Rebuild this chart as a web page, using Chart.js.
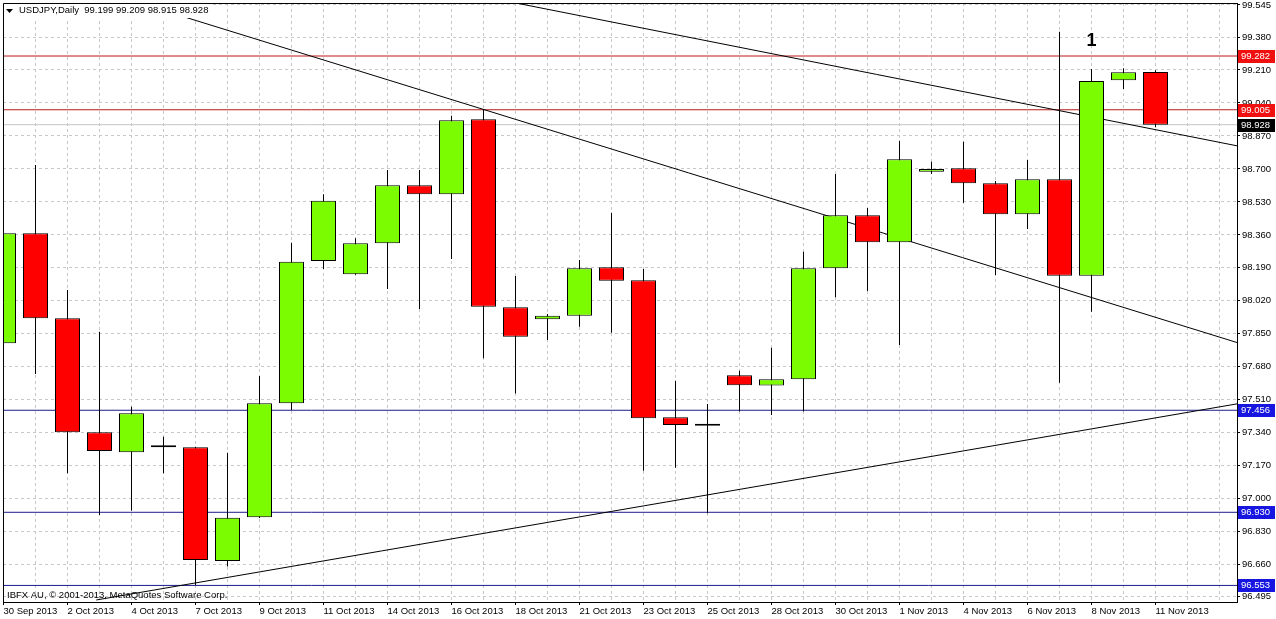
<!DOCTYPE html>
<html><head><meta charset="utf-8">
<script src="https://cdn.jsdelivr.net/npm/chart.js@4"></script>
<style>html,body{margin:0;padding:0;background:#fff;overflow:hidden}</style>
</head><body>
<canvas id="c" width="1276" height="619"></canvas>
<script>
// ---- data ----
const dates = ['30 Sep 2013','1 Oct 2013','2 Oct 2013','3 Oct 2013','4 Oct 2013','6 Oct 2013','7 Oct 2013','8 Oct 2013','9 Oct 2013','10 Oct 2013','11 Oct 2013','13 Oct 2013','14 Oct 2013','15 Oct 2013','16 Oct 2013','17 Oct 2013','18 Oct 2013','20 Oct 2013','21 Oct 2013','22 Oct 2013','23 Oct 2013','24 Oct 2013','25 Oct 2013','27 Oct 2013','28 Oct 2013','29 Oct 2013','30 Oct 2013','31 Oct 2013','1 Nov 2013','3 Nov 2013','4 Nov 2013','5 Nov 2013','6 Nov 2013','7 Nov 2013','8 Nov 2013','10 Nov 2013','11 Nov 2013'];
const opens  = [97.801,98.368,97.930,97.342,97.239,97.265,97.265,96.679,96.904,97.492,98.225,98.157,98.317,98.616,98.569,98.956,97.987,97.925,97.943,98.193,98.126,97.420,97.376,97.636,97.583,97.616,98.188,98.461,98.322,98.686,98.703,98.626,98.466,98.647,98.149,99.157,99.199];
const highs  = [98.488,98.720,98.076,97.861,97.474,97.320,97.268,97.237,97.633,98.320,98.569,98.342,98.694,98.694,98.974,99.007,98.148,97.952,98.230,98.474,98.184,97.608,97.488,97.660,97.778,98.273,98.674,98.499,98.845,98.737,98.840,98.638,98.746,99.407,99.215,99.219,99.209];
const lows   = [97.483,97.643,97.131,96.916,96.938,97.131,96.555,96.650,96.900,97.457,98.184,98.155,98.081,97.978,98.236,97.724,97.543,97.818,97.887,97.856,97.144,97.160,96.925,97.449,97.432,97.449,98.038,98.071,97.792,98.674,98.526,98.153,98.390,97.598,97.964,99.112,98.915];
const closes = [98.368,97.930,97.342,97.246,97.440,97.265,96.684,96.902,97.492,98.222,98.536,98.317,98.616,98.569,98.951,97.990,97.835,97.943,98.188,98.124,97.415,97.380,97.376,97.585,97.616,98.188,98.461,98.322,98.750,98.700,98.626,98.466,98.647,98.149,99.153,99.198,98.928];
const priceTicks = [99.545,99.380,99.210,99.040,98.870,98.700,98.530,98.360,98.190,98.020,97.850,97.680,97.510,97.340,97.170,97.000,96.830,96.660,96.495];
const redLevels = [99.282, 99.005];
const blueLevels = [97.456, 96.930, 96.553];
const bidLevel = 98.928;
const trendLine1 = [[4.25, 99.555], [38.55, 97.805]];
const trendLine2 = [[16.02, 99.555], [38.55, 98.819]];
const trendLine3 = [[2.9, 96.478], [38.55, 97.489]];
const titleSymbol = 'USDJPY,Daily';
const titleOHLC = '99.199 99.209 98.915 98.928';
const copyrightText = 'IBFX AU, \u00A9 2001-2013, MetaQuotes Software Corp.';
const markText = '1';
const markIndex = 34;
const markPrice = 99.36;

// ---- styles / layout ----
const X_MIN = -0.015625, X_MAX = 38.546875;
const Y_MIN = 96.4676, Y_MAX = 99.5553;
const FONT = "'Liberation Sans', Arial, sans-serif";
const BULL = '#7cfc00', BEAR = '#ff0000';
const LINE_RED = '#bb1a1a', LINE_BLUE = '#1c1c8c';
const BOX_RED = '#f01010', BOX_BLUE = '#1616e0';

Chart.defaults.font.family = FONT;
Chart.defaults.font.size = 9.5;
Chart.defaults.color = '#000';

const bodyData = dates.map((d, i) => ({x: i, y: [opens[i], closes[i]]}));
const wickData = dates.map((d, i) => ({x: i, y: [lows[i], highs[i]]}));
const bodyColors = dates.map((d, i) => closes[i] > opens[i] ? BULL : (closes[i] < opens[i] ? BEAR : '#000'));

const levelLine = (v, color) => ({type: 'line', data: [{x: X_MIN, y: v}, {x: X_MAX, y: v}], borderColor: color, borderWidth: 1, pointRadius: 0, order: 4});
const trend = (pts) => ({type: 'line', data: pts.map(p => ({x: p[0], y: p[1]})), borderColor: '#000', borderWidth: 1, pointRadius: 0, order: 3});

const datasets = [
  {type: 'bar', data: bodyData, backgroundColor: bodyColors, borderColor: '#000', borderWidth: 1, borderSkipped: false,
   barThickness: 25, grouped: false, minBarLength: 2, inflateAmount: 0, order: 1},
  {type: 'bar', data: wickData, backgroundColor: '#000', borderWidth: 0, barThickness: 1, grouped: false, inflateAmount: 0, order: 2},
  ...redLevels.map(v => levelLine(v, LINE_RED)),
  ...blueLevels.map(v => levelLine(v, LINE_BLUE)),
  levelLine(bidLevel, '#c4c4c4'),
  trend(trendLine1), trend(trendLine2), trend(trendLine3)
];

const decor = {
  id: 'decor',
  beforeDraw(chart) {
    const ctx = chart.ctx;
    ctx.save(); ctx.fillStyle = '#fff'; ctx.fillRect(0, 0, chart.width, chart.height); ctx.restore();
  },
  afterDatasetsDraw(chart) {
    const {ctx, chartArea: a, scales} = chart;
    ctx.save();
    // copyright
    ctx.font = '9.5px ' + FONT; ctx.fillStyle = '#000'; ctx.textBaseline = 'middle'; ctx.textAlign = 'left';
    ctx.fillText(copyrightText, 7, 595);
    // title with white background
    const full = titleSymbol + '  ' + titleOHLC;
    const w = ctx.measureText(full).width;
    ctx.fillStyle = '#fff'; ctx.fillRect(a.left + 1, a.top + 1, 19 + w - a.left, 14);
    ctx.fillStyle = '#000';
    ctx.beginPath(); ctx.moveTo(6, 9); ctx.lineTo(13, 9); ctx.lineTo(9.5, 13); ctx.closePath(); ctx.fill();
    ctx.fillText(full, 19, 10.5);
    // mark
    ctx.font = 'bold 18px ' + FONT; ctx.textAlign = 'center';
    ctx.fillText(markText, scales.x.getPixelForValue(markIndex), scales.y.getPixelForValue(markPrice));
    // frame
    ctx.strokeStyle = '#000'; ctx.lineWidth = 1;
    ctx.beginPath();
    ctx.moveTo(a.left + 0.5, a.bottom); ctx.lineTo(a.left + 0.5, a.top + 0.5); ctx.lineTo(a.right, a.top + 0.5);
    ctx.stroke();
    ctx.restore();
  },
  afterDraw(chart) {
    const {ctx, scales} = chart;
    const y = scales.y;
    const box = (v, bg) => {
      const py = y.getPixelForValue(v);
      ctx.fillStyle = bg; ctx.fillRect(1238, Math.round(py) - 6, 37, 13);
      ctx.fillStyle = '#fff'; ctx.font = '9.5px ' + FONT; ctx.textBaseline = 'middle'; ctx.textAlign = 'left';
      ctx.fillText(v.toFixed(3), 1241, Math.round(py) + 0.5);
    };
    ctx.save();
    redLevels.forEach(v => box(v, BOX_RED));
    box(bidLevel, '#000');
    blueLevels.forEach(v => box(v, BOX_BLUE));
    ctx.restore();
  }
};

new Chart(document.getElementById('c'), {
  type: 'bar',
  data: {datasets},
  options: {
    responsive: false, animation: false, devicePixelRatio: 1,
    layout: {padding: {left: 3, top: 3, right: 0, bottom: 0}},
    plugins: {legend: {display: false}, tooltip: {enabled: false}},
    scales: {
      x: {
        type: 'linear', min: X_MIN, max: X_MAX, offset: false, bounds: 'data',
        afterBuildTicks: s => { const t = []; for (let i = 0; i <= 38; i++) t.push({value: i}); s.ticks = t; },
        afterFit: s => { s.height = 17; s.paddingLeft = 0; s.paddingRight = 0; },
        ticks: {autoSkip: false, maxRotation: 0, minRotation: 0, align: 'start', padding: 1,
                callback: v => (v % 2 === 0 && dates[v]) ? dates[v] : ''},
        grid: {offset: false, color: '#c8c8c8', lineWidth: 1, drawTicks: true, tickLength: 3,
               tickColor: c => (c.tick && c.tick.value % 2 === 0 && c.tick.value < dates.length) ? '#000' : 'rgba(0,0,0,0)'},
        border: {display: true, color: '#000', width: 1, dash: [3, 3]}
      },
      y: {
        type: 'linear', position: 'right', min: Y_MIN, max: Y_MAX, bounds: 'data',
        afterBuildTicks: s => { s.ticks = priceTicks.map(v => ({value: v})); },
        afterFit: s => { s.width = 39; s.paddingTop = 0; s.paddingBottom = 0; },
        ticks: {autoSkip: false, padding: 2, callback: v => Number(v).toFixed(3)},
        grid: {color: '#c8c8c8', lineWidth: 1, drawTicks: true, tickLength: 3, tickColor: '#000'},
        border: {display: true, color: '#000', width: 1, dash: [3, 3]}
      }
    }
  },
  plugins: [decor]
});
</script>
</body></html>
